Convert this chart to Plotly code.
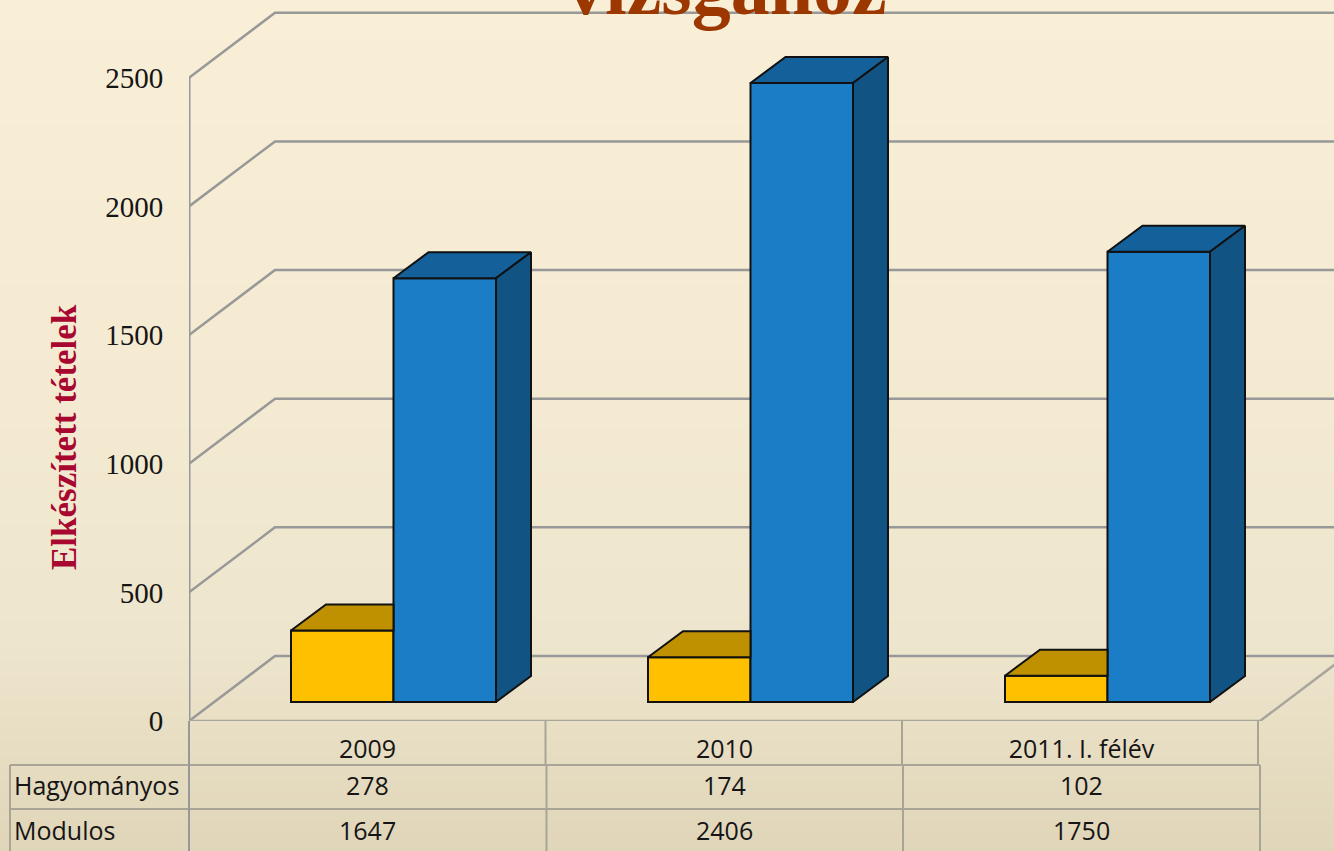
import plotly.graph_objects as go

categories = ["2009", "2010", "2011. I. félév"]
series_names = ["Hagyományos", "Modulos"]
hagyomanyos = [278, 174, 102]
modulos = [1647, 2406, 1750]
y_ticks = [0, 500, 1000, 1500, 2000, 2500]
title_text = "vizsgához"
y_title = "Elkészített tételek"

W, H = 1334, 851
PX_PER_UNIT = 0.2573      # vertical pixels per value unit
SLOT = 357.0              # horizontal pixels per category
BAR_W = 102.5 / SLOT
BAR_DX, BAR_DY = 35 / SLOT, 26 / PX_PER_UNIT       # bar depth
WALL_DX, WALL_DY = 86 / SLOT, 65 / PX_PER_UNIT     # wall depth
n = len(categories)
x_idx = list(range(n))

GRID = "#989898"
fig = go.Figure()

# ---- walls and floor (lower subplot)
for v in y_ticks:
    xs = [-0.5, -0.5 + WALL_DX, n - 0.5 + WALL_DX]
    ys = [v, v + WALL_DY, v + WALL_DY]
    fig.add_trace(go.Scatter(x=xs, y=ys, mode="lines", line=dict(color=GRID, width=2.5),
                             hoverinfo="skip", showlegend=False))
fig.add_trace(go.Scatter(x=[-0.5, -0.5], y=[0, y_ticks[-1]], mode="lines",
                         line=dict(color=GRID, width=3), hoverinfo="skip", showlegend=False))
fig.add_trace(go.Scatter(x=[-0.5, n - 0.5, n - 0.5 + WALL_DX], y=[0, 0, WALL_DY], mode="lines",
                         line=dict(color="#a8a69c", width=2.5), hoverinfo="skip", showlegend=False))

# ---- bars (upper subplot)
fig.add_trace(go.Bar(x=x_idx, y=hagyomanyos, name=series_names[0], width=BAR_W, offset=-BAR_W,
                     marker=dict(color="#FFC000", line=dict(color="#111111", width=2)),
                     xaxis="x2", yaxis="y2", showlegend=False))
fig.add_trace(go.Bar(x=x_idx, y=modulos, name=series_names[1], width=BAR_W, offset=0,
                     marker=dict(color="#1A7DC6", line=dict(color="#111111", width=2)),
                     xaxis="x2", yaxis="y2", showlegend=False))


def poly(xs, ys, color):
    fig.add_trace(go.Scatter(x=xs, y=ys, mode="lines", fill="toself", fillcolor=color,
                             line=dict(color="#111111", width=2), xaxis="x2", yaxis="y2",
                             hoverinfo="skip", showlegend=False))


for i in x_idx:
    # yellow top face, hidden behind the blue bar beyond its front left edge
    x0, x1, v = i - BAR_W, i, hagyomanyos[i]
    poly([x0, x0 + BAR_DX, x1, x1, x0], [v, v + BAR_DY, v + BAR_DY, v, v], "#BF9000")
    # blue top and side faces
    x0, x1, v = i, i + BAR_W, modulos[i]
    poly([x0, x0 + BAR_DX, x1 + BAR_DX, x1, x0], [v, v + BAR_DY, v + BAR_DY, v, v], "#13609B")
    poly([x1, x1 + BAR_DX, x1 + BAR_DX, x1, x1], [0, BAR_DY, v + BAR_DY, v, 0], "#115483")

# ---- background gradient strips
stops = [(0, (249, 238, 214)), (400, (244, 234, 210)), (640, (237, 229, 205)), (851, (224, 213, 184))]


def bg(p):
    for (a, ca), (b, cb) in zip(stops, stops[1:]):
        if a <= p <= b:
            t = (p - a) / (b - a)
            return "rgb(%d,%d,%d)" % tuple(round(u + (w - u) * t) for u, w in zip(ca, cb))
    return "rgb(224,213,184)"


shapes = []
for p in range(0, H, 4):
    shapes.append(dict(type="rect", xref="paper", yref="paper", x0=0, x1=1, y0=0, y1=1 - p / H,
                       fillcolor=bg(p), line=dict(width=0), layer="below"))


# ---- data table rules (above the traces, outside the axes)
def hline(x0, x1, y):
    shapes.append(dict(type="line", xref="paper", yref="paper", x0=x0 / W, x1=x1 / W,
                       y0=1 - y / H, y1=1 - y / H, line=dict(color="#a8a496", width=2)))


def vline(x, y0, y1, color="#a8a496"):
    shapes.append(dict(type="line", xref="paper", yref="paper", x0=x / W, x1=x / W,
                       y0=1 - y0 / H, y1=1 - y1 / H, line=dict(color=color, width=2)))


hline(10, 1260, 765)
hline(10, 1260, 809)
vline(189, 721, 851, GRID)
for x in (545.5, 902, 1258):
    vline(x, 721, 765)
for x in (10, 546.5, 903, 1260):
    vline(x, 765, 851)

# ---- text
TBL = dict(family="Open Sans", size=25, color="#151515")
ann = []
for r, (row, yp) in enumerate(zip((hagyomanyos, modulos), (785, 830))):
    ann.append(dict(text=series_names[r], xref="paper", yref="paper", x=12 / W, y=1 - yp / H,
                    xanchor="left", yanchor="middle", showarrow=False, font=TBL))
    for i, v in enumerate(row):
        ann.append(dict(text=str(v), xref="x", yref="paper", x=i, y=1 - yp / H,
                        xanchor="center", yanchor="middle", showarrow=False, font=TBL))
ann.append(dict(text="<b>%s</b>" % title_text, xref="paper", yref="paper", x=727 / W, y=1 + 58 / H,
                xanchor="center", yanchor="top", showarrow=False,
                font=dict(family="Liberation Serif", size=78, color="#9C3700")))
ann.append(dict(text="<b>%s</b>" % y_title, xref="paper", yref="paper", x=64 / W, y=1 - 437 / H,
                xanchor="center", yanchor="middle", textangle=-90, showarrow=False,
                font=dict(family="Liberation Serif", size=35, color="#A8072F")))

fig.update_layout(
    width=W, height=H, autosize=False, margin=dict(l=0, r=0, t=0, b=0, autoexpand=False),
    paper_bgcolor="#F4EAD2", plot_bgcolor="rgba(0,0,0,0)", showlegend=False,
    barmode="overlay", shapes=shapes, annotations=ann,
    xaxis=dict(domain=[189 / W, 1], range=[-0.5, -0.5 + (W - 189) / SLOT],
               tickvals=x_idx, ticktext=categories, showgrid=False, zeroline=False, showline=False,
               ticks="outside", ticklen=6, tickcolor="rgba(0,0,0,0)",
               tickfont=TBL),
    yaxis=dict(domain=[(H - 721) / H, 1], range=[0, 721 / PX_PER_UNIT],
               tickvals=y_ticks, showgrid=False, zeroline=False, showline=False,
               ticks="outside", ticklen=19, tickcolor="rgba(0,0,0,0)",
               tickfont=dict(family="Liberation Serif", size=29, color="#151515")),
    xaxis2=dict(overlaying="x", anchor="y2", range=[-(393.5 - 189) / SLOT, (W - 393.5) / SLOT],
                visible=False),
    yaxis2=dict(overlaying="y", anchor="x2", range=[-19 / PX_PER_UNIT, 702 / PX_PER_UNIT],
                visible=False),
)

fig.write_html("out.html", config=dict(displayModeBar=False),
               post_script="document.body.style.margin='0';")
